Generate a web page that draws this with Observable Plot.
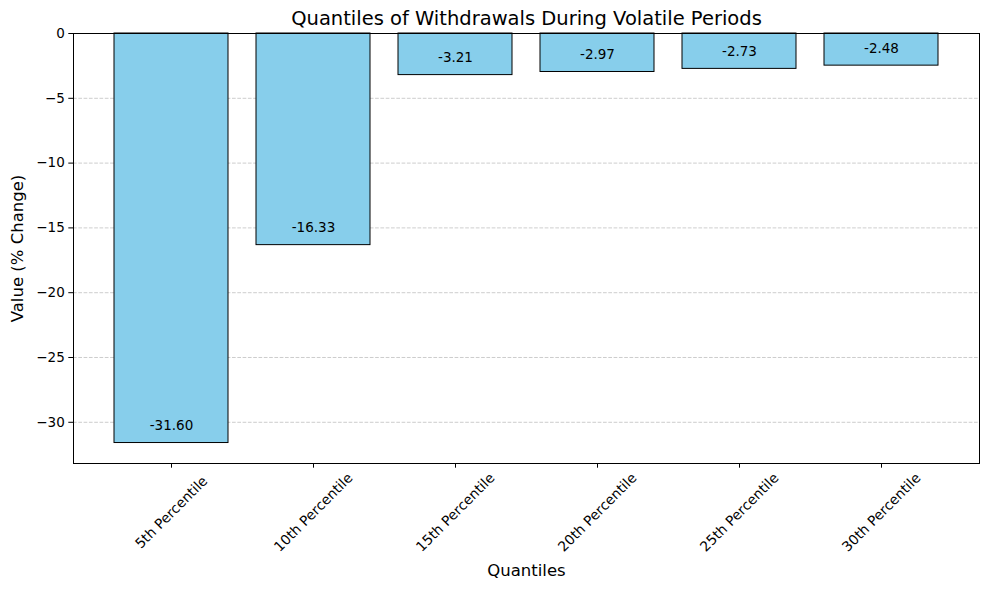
<!DOCTYPE html>
<html>
<head>
<meta charset="utf-8">
<script src="https://cdn.jsdelivr.net/npm/d3@7"></script>
<script src="https://cdn.jsdelivr.net/npm/@observablehq/plot@0.6"></script>
<style>
  body { margin: 0; background: #fff; }
  svg { font-family: "DejaVu Sans", sans-serif; }
</style>
</head>
<body>
<div id="chart"></div>
<script>
const categories = ["5th Percentile", "10th Percentile", "15th Percentile", "20th Percentile", "25th Percentile", "30th Percentile"];
const values = [-31.60, -16.33, -3.21, -2.97, -2.73, -2.48];
const yTicks = [-30, -25, -20, -15, -10, -5, 0];
const title = "Quantiles of Withdrawals During Volatile Periods";
const xLabel = "Quantiles";
const yLabel = "Value (% Change)";

const data = categories.map((c, i) => ({category: c, value: values[i]}));
const minV = d3.min(values);
const yMin = minV - 0.05 * (0 - minV);

const plot = Plot.plot({
  width: 989,
  height: 590,
  marginLeft: 73,
  marginRight: 10,
  marginTop: 33,
  marginBottom: 127,
  style: {fontFamily: "DejaVu Sans, sans-serif", fontSize: "13.3px", background: "#fff", color: "#000"},
  x: {type: "band", domain: categories, paddingInner: 0.2, paddingOuter: 0.29, label: null},
  y: {domain: [yMin, 0], label: null},
  marks: [
    Plot.ruleY(yTicks, {stroke: "#b0b0b0", strokeOpacity: 0.8, strokeDasharray: "3.7,1.6", strokeWidth: 0.8}),
    Plot.barY(data, {x: "category", y: "value", fill: "#87CEEB", stroke: "#000", strokeWidth: 1}),
    Plot.text(data, {x: "category", y: d => d.value + 1, text: d => d.value.toFixed(2), lineAnchor: "bottom", fontSize: 13.5, fill: "#000"}),
    Plot.frame({stroke: "#000", strokeWidth: 1}),
    Plot.axisY({ticks: yTicks, tickSize: 4.7, tickPadding: 4, fontSize: 13.5, label: null, tickFormat: d => d3.format("d")(d).replace("-", "\u2212")}),
    Plot.axisX({tickSize: 4.7, tickFormat: () => "", label: null}),
    Plot.text(categories, {x: d => d, frameAnchor: "bottom", dy: 49, rotate: -45, textAnchor: "middle", lineAnchor: "middle", fontSize: 13.8, fill: "#000"}),
    Plot.text([xLabel], {frameAnchor: "bottom", dy: 107, fontSize: 16.5, fill: "#000", textAnchor: "middle", lineAnchor: "middle"}),
    Plot.text([yLabel], {frameAnchor: "left", dx: -56, rotate: -90, fontSize: 16.5, fill: "#000", textAnchor: "middle", lineAnchor: "middle"}),
    Plot.text([title], {frameAnchor: "top", dy: -15, fontSize: 19.5, fill: "#000", textAnchor: "middle", lineAnchor: "middle"})
  ]
});
document.getElementById("chart").appendChild(plot);
</script>
</body>
</html>
